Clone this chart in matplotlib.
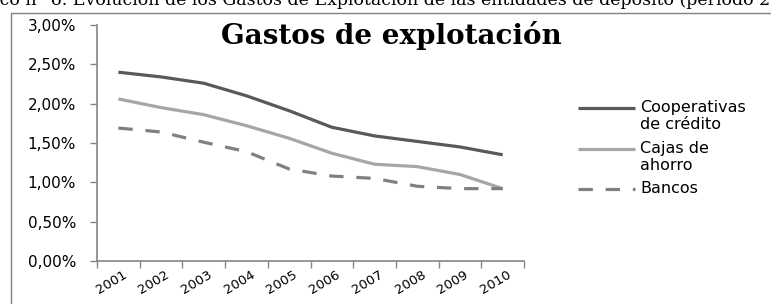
import matplotlib
matplotlib.use("Agg")
import matplotlib.pyplot as plt
import matplotlib.transforms as mtransforms
from matplotlib.lines import Line2D
from matplotlib.patches import Rectangle
from matplotlib.ticker import FuncFormatter, FixedLocator

# ---------------------------------------------------------
# Data (percent of average total assets)
# ---------------------------------------------------------
years = ["2001", "2002", "2003", "2004", "2005", "2006", "2007", "2008", "2009", "2010"]

cooperativas = [2.40, 2.34, 2.26, 2.10, 1.91, 1.70, 1.59, 1.52, 1.45, 1.35]
cajas = [2.06, 1.95, 1.86, 1.72, 1.56, 1.37, 1.23, 1.20, 1.10, 0.92]
bancos = [1.69, 1.64, 1.51, 1.39, 1.17, 1.08, 1.05, 0.95, 0.92, 0.92]

labels = ["Cooperativas\nde crédito", "Cajas de\nahorro", "Bancos"]
y_ticks = [0.0, 0.5, 1.0, 1.5, 2.0, 2.5, 3.0]

caption = ("Gráfico n° 6. Evolución de los Gastos de Explotación de las "
           "entidades de depósito (período 2001-2010)")

# ---------------------------------------------------------
# Styles
# ---------------------------------------------------------
W, H = 771, 304
sans = ["DejaVu Sans"]
serif = ["DejaVu Serif"]
axis_grey = "#868686"
styles = [
    dict(color="#595959", linestyle="-"),
    dict(color="#a6a6a6", linestyle="-"),
    dict(color="#808080", linestyle=(0, (4.5, 4.0))),
]
lw = 2.3

fig = plt.figure(figsize=(W / 100, H / 100), dpi=100)
ax = fig.add_axes([97 / W, 1 - 261 / H, (524 - 97) / W, (261 - 25) / H])

x = list(range(len(years)))
for series, st in zip([cooperativas, cajas, bancos], styles):
    ax.plot(x, series, linewidth=lw, solid_capstyle="butt", dash_capstyle="butt", **st)

ax.set_xlim(-0.5, len(years) - 0.5)
ax.set_ylim(0, 3.0)

# y axis
ax.yaxis.set_major_locator(FixedLocator(y_ticks))
ax.yaxis.set_major_formatter(FuncFormatter(lambda v, p: f"{v:.2f}%".replace(".", ",")))
ax.tick_params(axis="y", length=5, width=1, color=axis_grey, pad=10,
               labelsize=11, labelcolor="black")
for lab in ax.get_yticklabels():
    lab.set_family(sans)

# x axis: labels at centres, tick marks on category boundaries
ax.set_xticks(x)
ax.set_xticklabels(years, rotation=31, ha="right", va="top",
                   rotation_mode="anchor", family=sans, fontsize=9.5)
ax.set_xticks([i - 0.5 for i in range(len(years) + 1)], minor=True)
ax.tick_params(axis="x", which="major", length=0, pad=5)
ax.tick_params(axis="x", which="minor", length=5, width=1, color=axis_grey)
nudge = mtransforms.ScaledTranslation(4 / 100, 0, fig.dpi_scale_trans)
for lab in ax.get_xticklabels():
    lab.set_transform(lab.get_transform() + nudge)

for side in ["top", "right"]:
    ax.spines[side].set_visible(False)
for side in ["left", "bottom"]:
    ax.spines[side].set_color(axis_grey)
    ax.spines[side].set_linewidth(1.2)

# Title
fig.text(391 / W, 1 - 44 / H, "Gastos de explotación", family=serif,
         fontweight="bold", fontsize=20, ha="center", va="baseline")

# Manual legend (handle aligned with first text line, Excel style)
leg_y = [108, 149, 189]
for lab, st, yy in zip(labels, styles, leg_y):
    fig.add_artist(Line2D([578 / W, 635 / W], [1 - yy / H] * 2, linewidth=lw,
                          solid_capstyle="butt", dash_capstyle="butt", **st))
    fig.text(640 / W, 1 - (yy - 8) / H, lab, family=sans, fontsize=11.5,
             ha="left", va="top", linespacing=1.15)

# Chart border
fig.add_artist(Rectangle((11 / W, -0.2), 1.2, 1.2 - 13 / H,
                         transform=fig.transFigure, fill=False,
                         edgecolor="#808080", linewidth=1.0))

# Caption above the chart, cut by the page edge
renderer = fig.canvas.get_renderer()
probe = fig.text(0, 0, "Gráfi", family=serif, fontsize=12.5)
shift = probe.get_window_extent(renderer).width
probe.remove()
fig.text(-shift / W, 1 - 5 / H, caption, family=serif, fontsize=12.5,
         ha="left", va="baseline")

fig.savefig("out.png", dpi=100)
